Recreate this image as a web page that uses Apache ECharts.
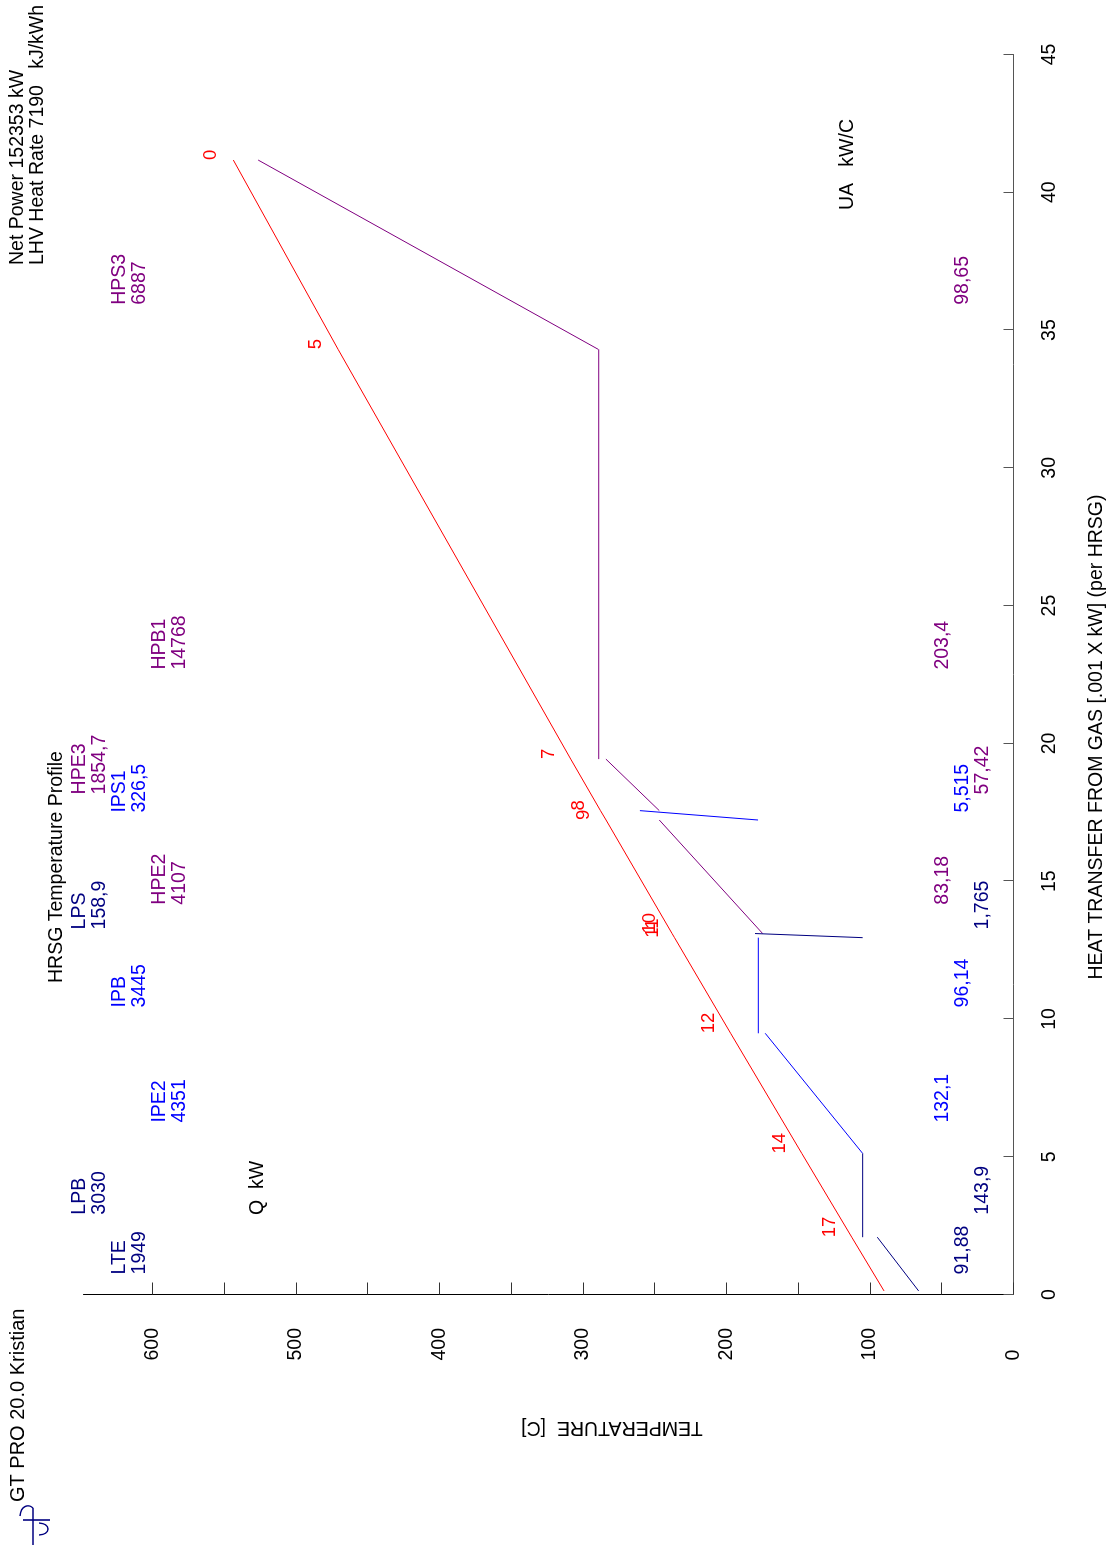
<!DOCTYPE html>
<html>
<head>
<meta charset="utf-8">
<title>HRSG Temperature Profile</title>
<script src="https://cdn.jsdelivr.net/npm/echarts@6/dist/echarts.min.js"></script>
<style>
  html, body { margin: 0; padding: 0; background: #fff; overflow: hidden; width: 1112px; height: 1546px; }
  /* the plot is laid out landscape and turned a quarter turn counter-clockwise onto the portrait page */
  #chart { position: absolute; left: 0; top: 0; width: 1546px; height: 1112px;
           transform-origin: 0 0; transform: translateY(1546px) rotate(-90deg); }
</style>
</head>
<body>
<div id="chart"></div>
<script>
// ---- HRSG sections, hot end first ----
const sections      = ['HPS3', 'HPB1', 'HPE3', 'IPS1', 'HPE2', 'LPS', 'IPB', 'IPE2', 'LPB', 'LTE'];
const dutyKW        = ['6887', '14768', '1854,7', '326,5', '4107', '158,9', '3445', '4351', '3030', '1949'];
const uaKWperC      = ['98,65', '203,4', '57,42', '5,515', '83,18', '1,765', '96,14', '132,1', '143,9', '91,88'];
const pressureLevel = ['HP', 'HP', 'HP', 'IP', 'HP', 'LP', 'IP', 'IP', 'LP', 'LP'];

// heat taken from the gas at each section's cold end and hot end [.001 x kW]
const heatCold = [34.30, 19.43, 17.56, 17.22, 13.10, 12.95, 9.48, 5.12, 2.08, 0.13];
const heatHot  = [41.17, 34.30, 19.43, 17.56, 17.22, 13.10, 12.95, 9.48, 5.12, 2.08];
// water / steam temperature at the cold end and hot end [C]
const waterCold = [289.3, 289.0, 246.8, 178.0, 174.8, 105.1, 177.8, 105.1, 105.1, 66.1];
const waterHot  = [526.3, 289.0, 284.0, 260.3, 246.8, 180.1, 177.8, 173.0, 105.1, 94.9];

// where each section's duty / UA annotation starts, and which annotation row it sits in
const labelHeat = [35.9, 22.66, 18.13, 17.47, 14.13, 13.23, 10.40, 6.22, 2.88, 0.71];
const labelRow  = [1, 2, 0, 1, 2, 0, 1, 2, 0, 1];

// ---- gas side state points ----
const gasPoint = ['0', '5', '7', '8', '9', '10', '11', '12', '14', '17', ''];
const gasHeat  = [41.17, 34.30, 19.43, 17.56, 17.22, 13.10, 12.95, 9.48, 5.12, 2.08, 0.13];
const gasTemp  = [543.6, 470.6, 308.5, 287.8, 283.9, 237.9, 236.2, 197.1, 147.5, 112.7, 90.2];

// ---- axes ----
const heatTicks  = [0, 5, 10, 15, 20, 25, 30, 35, 40, 45];
const tempTicks  = [0, 50, 100, 150, 200, 250, 300, 350, 400, 450, 500, 550, 600];
const tempLabels = [0, 100, 200, 300, 400, 500, 600];

// ---- presentation ----
const FONT = "'Liberation Sans', Arial, Helvetica, sans-serif";
const FS = 19.5;
const LEVEL_COLOR = { HP: '#800080', IP: '#0000ff', LP: '#000080' };
const GAS_COLOR = '#ff0000';
const Q_ROW_T  = [644, 616, 588];    // duty annotation rows (temperature units)
const UA_ROW_T = [21.3, 35.2, 49.1]; // UA annotation rows (temperature units)
const HIDDEN_DOT = { color: 'rgba(0,0,0,0)', opacity: 1 };

const chart = echarts.init(document.getElementById('chart'), null, { renderer: 'canvas', width: 1546, height: 1112 });

const sectionSeries = sections.map((name, i) => ({
  name: name,
  type: 'line',
  data: [[heatCold[i], waterCold[i]], [heatHot[i], waterHot[i]]],
  symbol: 'none',
  lineStyle: { color: LEVEL_COLOR[pressureLevel[i]], width: 1 },
  silent: true,
  z: 3
}));

function txt(x, y, text, size) {
  return { type: 'text', x: x, y: y,
    style: { text: text, font: (size || FS) + 'px ' + FONT, fill: '#000', align: 'left', verticalAlign: 'middle' } };
}

const option = {
  animation: false,
  backgroundColor: '#ffffff',
  textStyle: { fontFamily: FONT },
  grid: { left: 251.5, right: 54.5, top: 83.5, bottom: 98.5, containLabel: false },
  xAxis: {
    type: 'value', min: heatTicks[0], max: heatTicks[heatTicks.length - 1], interval: 5,
    axisLine: { show: true, onZero: false, lineStyle: { color: '#555', width: 1 } },
    axisTick: { show: true, inside: true, length: 10, lineStyle: { color: '#555' } },
    axisLabel: { show: true, margin: 26, color: '#000', fontSize: FS, fontFamily: FONT },
    splitLine: { show: false }
  },
  yAxis: {
    type: 'value', min: 0, max: 648,
    axisLine: { show: true, onZero: false, lineStyle: { color: '#000', width: 1 } },
    axisTick: { show: true, inside: true, length: 12, customValues: tempTicks, lineStyle: { color: '#333' } },
    axisLabel: { show: true, customValues: tempLabels, align: 'left', margin: 66, color: '#000',
                 fontSize: FS, fontFamily: FONT, padding: [0, 0, 8, 0] },
    splitLine: { show: false }
  },
  series: [
    {
      name: 'gas',
      type: 'line',
      data: gasHeat.map((h, i) => [h, gasTemp[i]]),
      symbol: 'none',
      lineStyle: { color: GAS_COLOR, width: 1 },
      silent: true,
      z: 4
    },
    ...sectionSeries,
    {
      name: 'gasPoints',
      type: 'scatter',
      symbol: 'circle', symbolSize: 1,
      itemStyle: HIDDEN_DOT,
      data: gasHeat.map((h, i) => ({ name: gasPoint[i], value: [h, gasTemp[i]] })),
      label: { show: true, position: 'top', distance: 12, align: 'left', formatter: '{b}', opacity: 1,
               color: GAS_COLOR, fontSize: 18.5, fontFamily: FONT },
      silent: true, z: 5
    },
    {
      name: 'duty',
      type: 'scatter',
      symbol: 'circle', symbolSize: 1, clip: false,
      itemStyle: HIDDEN_DOT,
      data: sections.map((s, i) => ({
        name: s,
        value: [labelHeat[i], Q_ROW_T[labelRow[i]]],
        label: { formatter: s + '\n' + dutyKW[i], color: LEVEL_COLOR[pressureLevel[i]] }
      })),
      label: { show: true, position: 'right', distance: 0, align: 'left', verticalAlign: 'middle', opacity: 1,
               lineHeight: 20, fontSize: FS, fontFamily: FONT },
      silent: true, z: 5
    },
    {
      name: 'ua',
      type: 'scatter',
      symbol: 'circle', symbolSize: 1, clip: false,
      itemStyle: HIDDEN_DOT,
      data: sections.map((s, i) => ({
        name: s,
        value: [labelHeat[i], UA_ROW_T[labelRow[i]]],
        label: { formatter: uaKWperC[i], color: LEVEL_COLOR[pressureLevel[i]] }
      })),
      label: { show: true, position: 'right', distance: 0, align: 'left', verticalAlign: 'middle', opacity: 1,
               fontSize: FS, fontFamily: FONT },
      silent: true, z: 5
    }
  ],
  graphic: [
    // program mark
    { type: 'group', x: 0, y: 0, children: [
      { type: 'line', shape: { x1: 1, y1: 33, x2: 38, y2: 33 }, style: { stroke: '#000080', lineWidth: 1.6 } },
      { type: 'line', shape: { x1: 26, y1: 23, x2: 26, y2: 50 }, style: { stroke: '#000080', lineWidth: 1.6 } },
      { type: 'bezierCurve', shape: { x1: 38, y1: 33, cpx1: 42, cpy1: 29, cpx2: 41, cpy2: 21, x2: 30, y2: 20 },
        style: { stroke: '#000080', fill: null, lineWidth: 1.4 } },
      { type: 'bezierCurve', shape: { x1: 23, y1: 39, cpx1: 22, cpy1: 51, cpx2: 12, cpy2: 51, x2: 11, y2: 39 },
        style: { stroke: '#000080', fill: null, lineWidth: 1.4 } }
    ]},
    txt(44, 18, 'GT PRO 20.0 Kristian', 20),
    txt(563, 57, 'HRSG Temperature Profile'),
    txt(1281, 18, 'Net Power 152353 kW'),
    txt(1281, 38, 'LHV Heat Rate 7190   kJ/kWh'),
    txt(331, 258, 'Q  kW'),
    txt(1336, 848, 'UA   kW/C'),
    { type: 'text', x: 809, y: 1097,
      style: { text: 'HEAT TRANSFER FROM GAS [.001 X kW] (per HRSG)', font: FS + 'px ' + FONT, fill: '#000', align: 'center', verticalAlign: 'middle' } },
    { type: 'text', x: 119, y: 612, rotation: Math.PI / 2,
      style: { text: 'TEMPERATURE  [C]', font: FS + 'px ' + FONT, fill: '#000', align: 'center', verticalAlign: 'middle' } }
  ]
};

chart.setOption(option);
</script>
</body>
</html>
